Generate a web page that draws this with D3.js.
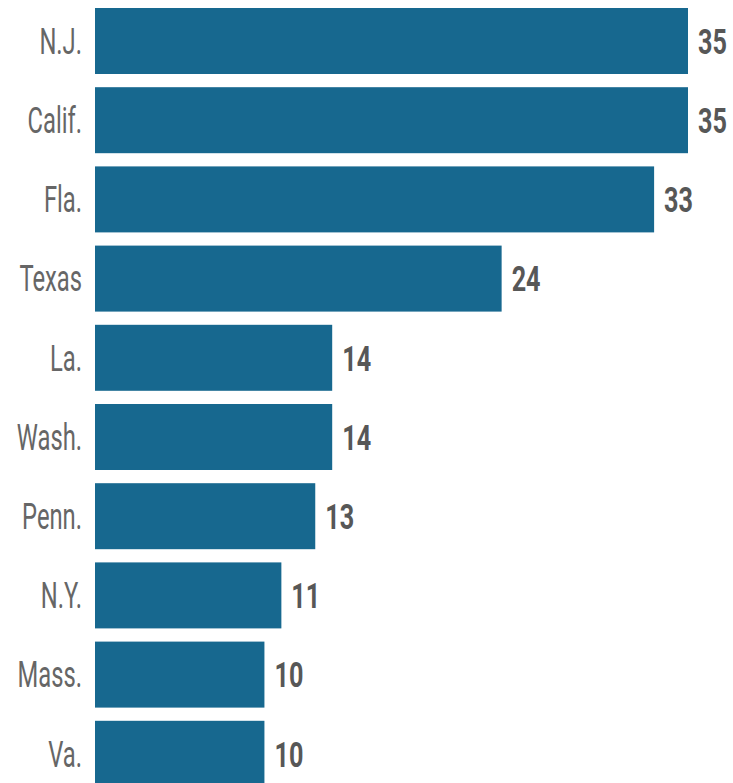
<!DOCTYPE html>
<html lang="en">
<head>
	<meta charset="UTF-8">
	<script src="https://d3js.org/d3.v7.min.js"></script>
	<title>Bars by state</title>
	<style type="text/css">
		body{ margin: 0; background: #fff; }
		.bar{ fill: #17688f; }
		.state{ font-family: Roboto, sans-serif; font-size: 36px; fill: #666; }
		.value{ font-family: Roboto, sans-serif; font-size: 36px; font-weight: bold; fill: #575757; }
	</style>
</head>
<body>
	<svg width="733" height="783"></svg>
	<script>
		var states = ["N.J.", "Calif.", "Fla.", "Texas", "La.", "Wash.", "Penn.", "N.Y.", "Mass.", "Va."];
		var values = [35, 35, 33, 24, 14, 14, 13, 11, 10, 10];

		var svg = d3.select("svg");

		var xScale = d3.scaleLinear().domain([0, 35]).range([95, 688]);
		var yScale = d3.scaleBand().domain(states).range([8, 786.8])
			.paddingInner(0.1667).paddingOuter(0);

		var rows = svg.selectAll(".row")
			.data(states)
			.enter().append("g")
			.attr("class", "row");

		rows.append("rect")
			.attr("class", "bar")
			.attr("x", xScale(0))
			.attr("y", function(d) { return yScale(d); })
			.attr("width", function(d, i) { return xScale(values[i]) - xScale(0); })
			.attr("height", yScale.bandwidth());

		// condensed look: squeeze text horizontally around its anchor
		rows.append("text")
			.attr("class", "state")
			.attr("text-anchor", "end")
			.attr("transform", function(d) {
				var y = yScale(d) + yScale.bandwidth() / 2;
				return "translate(82," + y + ") scale(0.66,1)";
			})
			.attr("dy", "0.355em")
			.text(function(d) { return d; });

		rows.append("text")
			.attr("class", "value")
			.attr("transform", function(d, i) {
				var y = yScale(d) + yScale.bandwidth() / 2;
				return "translate(" + (xScale(values[i]) + 10) + "," + y + ") scale(0.7,1)";
			})
			.attr("dy", "0.355em")
			.text(function(d, i) { return values[i]; });
	</script>
</body>
</html>
